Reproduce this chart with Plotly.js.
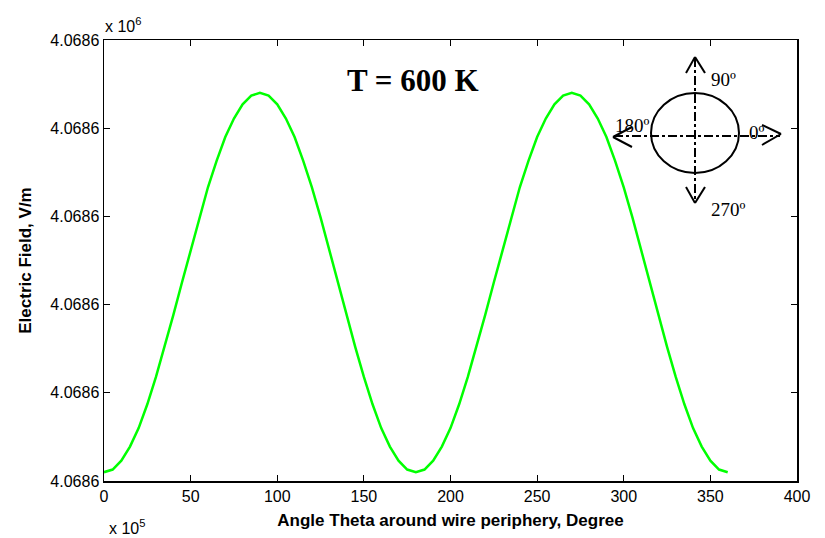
<!DOCTYPE html>
<html>
<head>
<meta charset="utf-8">
<script src="https://cdn.plot.ly/plotly-3.0.1.min.js"></script>
<style>html,body{margin:0;padding:0;background:#fff;}#chart{width:825px;height:538px;}</style>
</head>
<body>
<div id="chart"></div>
<script>
// Angle around the wire periphery (degrees)
const angleDeg = [];
for (let a = 0; a <= 360; a += 5) angleDeg.push(a);

// Electric field above 4,068,600 V/m (V/m)
const fieldDelta = [
  0.10,0.13,0.23,0.39,0.60,0.87,1.18,1.52,1.88,2.25,2.62,2.99,3.33,3.63,3.90,4.11,4.27,4.37,4.40,
  4.37,4.27,4.11,3.90,3.63,3.33,2.99,2.62,2.25,1.88,1.52,1.18,0.87,0.60,0.39,0.23,0.13,0.10,
  0.13,0.23,0.39,0.60,0.87,1.18,1.52,1.88,2.25,2.62,2.99,3.33,3.63,3.90,4.11,4.27,4.37,4.40,
  4.37,4.27,4.11,3.90,3.63,3.33,2.99,2.62,2.25,1.88,1.52,1.18,0.87,0.60,0.39,0.23,0.13,0.10
];
const fieldBase = 4.0686; // x 10^6 V/m

const xTickVals = [0,50,100,150,200,250,300,350,400];
const yTickSteps = [0,1,2,3,4,5];
const yTickText = ["4.0686","4.0686","4.0686","4.0686","4.0686","4.0686"];

const fieldE6 = fieldDelta.map(d => fieldBase + d * 1e-6);
const yTickVals = yTickSteps.map(s => fieldBase + s * 1e-6);

const L = 104, R = 797, T = 40, B = 481, W = 825, H = 538;
const px = x => (x - L) / (R - L);
const py = y => (B - y) / (B - T);

function seg(x0, y0, x1, y1, dash, width) {
  return {type: 'line', xref: 'paper', yref: 'paper',
    x0: px(x0), y0: py(y0), x1: px(x1), y1: py(y1),
    line: {color: 'black', width: width || 2, dash: dash || 'solid'}};
}

const cx = 695, cy = 133;
const shapes = [
  {type: 'circle', xref: 'paper', yref: 'paper',
   x0: px(cx - 44), x1: px(cx + 44), y0: py(cy + 40), y1: py(cy - 40),
   line: {color: 'black', width: 2}},
  seg(cx, 58, cx, 202, 'dashdot', 2),
  seg(614, 136, 780, 136, 'dashdot', 2),
  // top arrow
  seg(686, 73, cx, 57), seg(cx, 57, 705, 73),
  // bottom arrow
  seg(686, 187, cx, 203), seg(cx, 203, 705, 187),
  // left arrow
  seg(632, 127, 613, 137), seg(613, 137, 632, 147),
  // right arrow
  seg(762, 125, 781, 134), seg(781, 134, 762, 145)
];

const serif = 'Liberation Serif, Times New Roman, serif';
const sans = 'Liberation Sans, Arial, sans-serif';

function ann(text, x, y, size, family, xanchor, yanchor) {
  return {text: text, xref: 'paper', yref: 'paper', x: px(x), y: py(y),
    xanchor: xanchor || 'left', yanchor: yanchor || 'middle', showarrow: false,
    font: {size: size, family: family, color: 'black'}};
}

const annotations = [
  ann('<b>T = 600 K</b>', 413, 80, 31, serif, 'center', 'middle'),
  ann('90º', 709, 79, 19, serif),
  ann('180º', 613, 125, 19, serif),
  ann('0º', 747, 132, 19, serif),
  ann('270º', 709, 210, 19, serif),
  ann('x 10<sup>6</sup>', 103, 25, 16, sans),
  ann('x 10<sup>5</sup>', 107, 527, 16, sans),
  ann('7.0816', 50, 534, 16, sans, 'left', 'top')
];

const trace = {
  x: angleDeg, y: fieldE6, type: 'scatter', mode: 'lines',
  line: {color: '#00ff00', width: 2.5},
  hoverinfo: 'x+y'
};

const layout = {
  width: W, height: H,
  margin: {l: L, r: W - R, t: T, b: H - B, pad: 0},
  paper_bgcolor: 'white', plot_bgcolor: 'white',
  showlegend: false,
  font: {family: sans, color: 'black', size: 16},
  xaxis: {
    range: [0, 400], tickmode: 'array', tickvals: xTickVals,
    ticks: 'inside', ticklen: 6, tickcolor: 'black', tickwidth: 1,
    showline: true, linecolor: 'black', linewidth: 1.5, mirror: 'ticks',
    showgrid: false, zeroline: false,
    tickfont: {size: 16, family: sans, color: 'black'},
    title: {text: '<b>Angle Theta around wire periphery, Degree</b>',
            font: {size: 17, family: sans, color: 'black'}, standoff: 10}
  },
  yaxis: {
    range: [fieldBase, fieldBase + 5e-6], tickmode: 'array',
    tickvals: yTickVals, ticktext: yTickText,
    ticks: 'inside', ticklen: 6, tickcolor: 'black', tickwidth: 1,
    showline: true, linecolor: 'black', linewidth: 1.5, mirror: 'ticks',
    showgrid: false, zeroline: false,
    tickfont: {size: 16, family: sans, color: 'black'},
    title: {text: '<b>Electric Field, V/m</b>',
            font: {size: 17, family: sans, color: 'black'}, standoff: 14}
  },
  shapes: shapes,
  annotations: annotations
};

Plotly.newPlot('chart', [trace], layout, {displayModeBar: false, staticPlot: true});
</script>
</body>
</html>
